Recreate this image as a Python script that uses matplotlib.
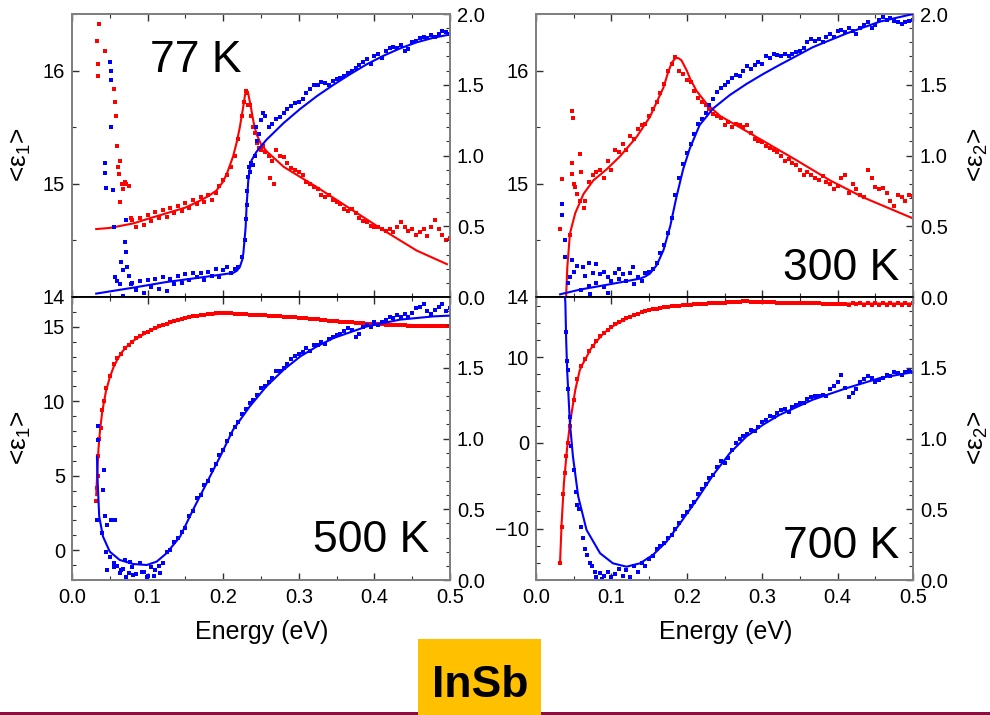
import matplotlib
matplotlib.use('Agg')
import matplotlib.pyplot as plt
from matplotlib import font_manager
from matplotlib.ticker import MultipleLocator, FixedLocator, FormatStrFormatter
from matplotlib.patches import Rectangle

plt.rcParams['font.family'] = ['Liberation Sans', 'DejaVu Sans']
plt.rcParams['mathtext.fontset'] = 'custom'
plt.rcParams['mathtext.rm'] = 'Liberation Sans'
plt.rcParams['mathtext.it'] = 'Liberation Sans:italic'
plt.rcParams['mathtext.bf'] = 'Liberation Sans:bold'

# ---------------- data ----------------
E_GRID = [0.035, 0.040, 0.045, 0.050, 0.055, 0.060, 0.065, 0.070, 0.075, 0.080,
          0.085, 0.090, 0.095, 0.100, 0.105, 0.110, 0.115, 0.120, 0.125, 0.130,
          0.135, 0.140, 0.145, 0.150, 0.155, 0.160, 0.165, 0.170, 0.175, 0.180,
          0.185, 0.190, 0.195, 0.200, 0.205, 0.210, 0.215, 0.220, 0.225, 0.230,
          0.235, 0.240, 0.245, 0.250, 0.255, 0.260, 0.265, 0.270, 0.275, 0.280,
          0.285, 0.290, 0.295, 0.300, 0.305, 0.310, 0.315, 0.320, 0.325, 0.330,
          0.335, 0.340, 0.345, 0.350, 0.355, 0.360, 0.365, 0.370, 0.375, 0.380,
          0.385, 0.390, 0.395, 0.400, 0.405, 0.410, 0.415, 0.420, 0.425, 0.430,
          0.435, 0.440, 0.445, 0.450, 0.455, 0.460, 0.465, 0.470, 0.475, 0.480,
          0.485, 0.490, 0.495, 0.500]

TEMPS = ['77 K', '300 K', '500 K', '700 K']

# ---- 77 K ----
TL_E1_FIT_X = [0.032, 0.050, 0.081, 0.100, 0.125, 0.150, 0.169, 0.180, 0.191, 0.200, 0.206, 0.213, 0.218,
               0.222, 0.226, 0.229, 0.231, 0.233, 0.236, 0.240, 0.244, 0.250, 0.257, 0.280, 0.324, 0.368,
               0.412, 0.456, 0.496]
TL_E1_FIT_Y = [14.60, 14.61, 14.65, 14.69, 14.74, 14.79, 14.85, 14.89, 14.94, 15.02, 15.11, 15.24, 15.37,
               15.50, 15.66, 15.79, 15.83, 15.80, 15.70, 15.55, 15.44, 15.35, 15.29, 15.15, 14.97, 14.78,
               14.59, 14.41, 14.29]
TL_E1_DOTS = [14.68, 14.62, 14.70, 14.64, 14.72, 14.67, 14.75, 14.70, 14.77, 14.71,
              14.79, 14.74, 14.80, 14.76, 14.83, 14.79, 14.86, 14.82, 14.88, 14.84,
              14.90, 14.86, 14.92, 14.98, 15.03, 15.08, 15.15, 15.25, 15.40, 15.60,
              15.82, 15.70, 15.50, 15.36, 15.30, 15.28, 15.25, 15.20, 15.30, 15.25,
              15.24, 15.18, 15.14, 15.12, 15.10, 15.08, 15.02, 15.00, 14.97, 14.95,
              14.90, 14.88, 14.90, 14.86, 14.84, 14.82, 14.78, 14.76, 14.78, 14.74,
              14.70, 14.67, 14.66, 14.63, 14.62, 14.62, 14.60, 14.58, 14.60, 14.57,
              14.62, 14.66, 14.62, 14.58, 14.60, 14.55, 14.57, 14.60, 14.54, 14.62,
              14.68, 14.60, 14.55, 14.50, 14.52]
TL_E1_EXTRA_X = [0.033, 0.034, 0.035, 0.036, 0.044, 0.056, 0.057, 0.058, 0.060, 0.061, 0.062, 0.063, 0.064,
                 0.066, 0.068, 0.070, 0.072, 0.075, 0.078, 0.228, 0.232, 0.233, 0.237, 0.242, 0.247, 0.252,
                 0.262, 0.267]
TL_E1_EXTRA_Y = [16.26, 16.06, 15.95, 16.41, 16.17, 15.84, 15.72, 15.60, 15.33, 15.15, 15.09, 15.20, 14.84,
                 15.00, 14.95, 15.02, 15.00, 14.98, 14.70, 15.72, 15.80, 15.70, 15.60, 15.45, 15.32, 15.33,
                 15.05, 15.00]
TL_E2_FIT_X = [0.032, 0.081, 0.125, 0.169, 0.213, 0.218, 0.222, 0.225, 0.2266, 0.228, 0.2297, 0.231, 0.2332,
               0.235, 0.2376, 0.244, 0.257, 0.280, 0.302, 0.324, 0.346, 0.368, 0.390, 0.412, 0.434, 0.456,
               0.478, 0.496]
TL_E2_FIT_Y = [0.024, 0.066, 0.106, 0.137, 0.170, 0.185, 0.212, 0.26, 0.307, 0.39, 0.495, 0.65, 0.825,
               0.90, 0.967, 1.026, 1.110, 1.230, 1.330, 1.420, 1.500, 1.575, 1.645, 1.705, 1.757, 1.800,
               1.832, 1.851]
TL_E2_DOTS = [0.10, 0.05, 0.11, 0.03, 0.12, 0.07, 0.13, 0.06, 0.14, 0.04,
              0.13, 0.09, 0.15, 0.10, 0.16, 0.12, 0.17, 0.14, 0.17, 0.12,
              0.18, 0.15, 0.20, 0.14, 0.19, 0.21, 0.17, 0.20, 0.21, 0.28,
              0.55, 0.88, 0.93, 1.10, 1.25, 1.28, 1.20, 1.22, 1.26, 1.27,
              1.30, 1.33, 1.35, 1.37, 1.38, 1.40, 1.44, 1.47, 1.50, 1.50,
              1.52, 1.51, 1.50, 1.53, 1.54, 1.55, 1.56, 1.58, 1.60, 1.62,
              1.64, 1.66, 1.68, 1.65, 1.70, 1.72, 1.69, 1.74, 1.76, 1.77,
              1.76, 1.78, 1.74, 1.75, 1.80, 1.81, 1.83, 1.84, 1.83, 1.85,
              1.84, 1.86, 1.88, 1.87, 1.86]
TL_E2_EXTRA_X = [0.050, 0.051, 0.052, 0.052, 0.044, 0.043, 0.045, 0.054, 0.055, 0.071, 0.070, 0.071, 0.073,
                 0.068, 0.057, 0.063, 0.068, 0.060, 0.075, 0.078, 0.065, 0.229, 0.231, 0.232, 0.233, 0.234,
                 0.237, 0.242, 0.243, 0.247, 0.252]
TL_E2_EXTRA_Y = [1.663, 1.60, 1.533, 1.203, 0.948, 0.873, 0.767, 0.755, 0.495, 0.542, 0.389, 0.318, 0.212,
                 0.189, 0.142, 0.094, 0.005, 0.11, 0.15, 0.09, 0.25, 0.40, 0.65, 0.75, 0.85, 0.92,
                 0.95, 1.00, 1.20, 1.15, 1.30]

# ---- 300 K ----
TR_E1_FIT_X = [0.0385, 0.040, 0.0415, 0.045, 0.052, 0.063, 0.076, 0.094, 0.111, 0.133, 0.151, 0.169, 0.175,
               0.180, 0.185, 0.189, 0.193, 0.200, 0.205, 0.213, 0.226, 0.244, 0.270, 0.301, 0.345, 0.390,
               0.434, 0.498]
TR_E1_FIT_Y = [13.95, 14.01, 14.26, 14.56, 14.74, 14.91, 15.03, 15.13, 15.24, 15.41, 15.59, 15.85, 15.98,
               16.07, 16.11, 16.11, 16.09, 16.00, 15.92, 15.82, 15.71, 15.60, 15.50, 15.38, 15.21, 15.03,
               14.88, 14.70]
TR_E1_DOTS = [14.85, 15.02, 15.08, 15.10, 15.12, 15.05, 15.20, 15.12, 15.30, 15.28,
              15.35, 15.30, 15.42, 15.40, 15.48, 15.52, 15.53, 15.60, 15.66, 15.72,
              15.80, 15.88, 16.00, 16.06, 16.12, 16.00, 15.97, 15.92, 15.90, 15.82,
              15.76, 15.72, 15.70, 15.66, 15.62, 15.60, 15.58, 15.52, 15.55, 15.50,
              15.53, 15.52, 15.50, 15.52, 15.45, 15.40, 15.38, 15.37, 15.33, 15.32,
              15.30, 15.28, 15.25, 15.20, 15.22, 15.18, 15.17, 15.12, 15.08, 15.10,
              15.08, 15.05, 15.03, 15.07, 15.02, 15.00, 14.95, 14.98, 15.05, 15.08,
              14.92, 15.00, 14.95, 14.90, 14.88, 15.12, 15.05, 14.97, 14.95, 14.96,
              14.92, 14.85, 14.80, 14.90, 14.88, 14.85, 14.90, 14.89]
TR_E1_EXTRA_X = [0.032, 0.034, 0.048, 0.0486, 0.058, 0.048, 0.048, 0.054, 0.052, 0.058, 0.063, 0.045, 0.050,
                 0.060]
TR_E1_EXTRA_Y = [14.60, 15.04, 15.64, 15.58, 15.26, 15.18, 15.09, 14.91, 14.97, 14.85, 14.79, 14.55, 15.00,
                 15.10]
TR_E2_FIT_X = [0.032, 0.058, 0.102, 0.138, 0.145, 0.151, 0.160, 0.169, 0.178, 0.186, 0.195, 0.204, 0.217,
               0.235, 0.257, 0.279, 0.301, 0.323, 0.367, 0.412, 0.456, 0.500]
TR_E2_FIT_Y = [0.019, 0.052, 0.094, 0.130, 0.145, 0.165, 0.224, 0.330, 0.50, 0.70, 0.90, 1.05, 1.215,
               1.333, 1.427, 1.505, 1.575, 1.640, 1.765, 1.863, 1.946, 2.0]
TR_E2_DOTS = [0.15, 0.08, 0.17, 0.10, 0.16, 0.07, 0.14, 0.11, 0.17, 0.13,
              0.16, 0.11, 0.17, 0.09, 0.14, 0.11, 0.17, 0.18, 0.20, 0.24,
              0.31, 0.37, 0.45, 0.56, 0.72, 0.84, 0.94, 1.02, 1.08, 1.15,
              1.22, 1.26, 1.30, 1.36, 1.40, 1.45, 1.48, 1.50, 1.52, 1.55,
              1.57, 1.56, 1.60, 1.63, 1.61, 1.64, 1.66, 1.65, 1.70, 1.69,
              1.72, 1.71, 1.70, 1.72, 1.70, 1.72, 1.73, 1.74, 1.76, 1.80,
              1.82, 1.81, 1.82, 1.80, 1.84, 1.86, 1.84, 1.88, 1.89, 1.87,
              1.90, 1.88, 1.86, 1.90, 1.92, 1.94, 1.90, 1.92, 1.96, 1.98,
              1.96, 1.97, 1.95, 1.94, 1.93, 1.94, 1.95, 1.96]
TR_E2_EXTRA_X = [0.034, 0.034, 0.038, 0.038, 0.048, 0.055, 0.062, 0.045, 0.050, 0.070, 0.080, 0.090, 0.129,
                 0.060, 0.072, 0.095, 0.042, 0.110]
TR_E2_EXTRA_Y = [0.660, 0.578, 0.400, 0.283, 0.259, 0.220, 0.210, 0.140, 0.180, 0.240, 0.230, 0.180, 0.212,
                 0.050, 0.020, 0.030, 0.100, 0.200]

# ---- 500 K ----
BL_E1_FIT_X = [0.032, 0.0335, 0.035, 0.037, 0.040, 0.045, 0.050, 0.055, 0.060, 0.066, 0.073, 0.081, 0.090,
               0.103, 0.125, 0.147, 0.169, 0.200, 0.235, 0.280, 0.324, 0.368, 0.412, 0.456, 0.498]
BL_E1_FIT_Y = [3.7, 5.3, 6.8, 8.0, 9.3, 10.7, 11.6, 12.3, 12.8, 13.3, 13.7, 14.06, 14.35,
               14.73, 15.18, 15.53, 15.75, 15.89, 15.82, 15.67, 15.51, 15.33, 15.18, 15.11, 15.09]
BL_E1_DOTS = [10.9, 11.7, 12.5, 12.9, 13.2, 13.6, 13.8, 14.0, 14.25, 14.4,
              14.55, 14.65, 14.8, 14.9, 15.05, 15.1, 15.2, 15.3, 15.38, 15.45,
              15.5, 15.58, 15.65, 15.7, 15.75, 15.78, 15.82, 15.85, 15.86, 15.9,
              15.9, 15.92, 15.9, 15.9, 15.88, 15.86, 15.85, 15.84, 15.82, 15.82,
              15.8, 15.78, 15.77, 15.75, 15.73, 15.72, 15.7, 15.68, 15.66, 15.66,
              15.63, 15.62, 15.58, 15.57, 15.54, 15.52, 15.5, 15.48, 15.44, 15.42,
              15.4, 15.37, 15.35, 15.33, 15.31, 15.29, 15.28, 15.25, 15.24, 15.22,
              15.2, 15.19, 15.18, 15.17, 15.15, 15.13, 15.12, 15.11, 15.1, 15.1,
              15.08, 15.08, 15.07, 15.06, 15.06, 15.05, 15.05, 15.05, 15.04, 15.05,
              15.04, 15.05]
BL_E1_EXTRA_X = [0.032, 0.033, 0.034, 0.035, 0.036, 0.038, 0.040, 0.042]
BL_E1_EXTRA_Y = [3.3, 4.2, 5.0, 6.3, 7.5, 8.2, 9.4, 10.0]
BL_E2_FIT_X = [0.033, 0.034, 0.036, 0.041, 0.050, 0.063, 0.081, 0.099, 0.112, 0.125, 0.143, 0.160, 0.178,
               0.196, 0.213, 0.235, 0.257, 0.280, 0.302, 0.324, 0.346, 0.390, 0.434, 0.478, 0.498]
BL_E2_FIT_Y = [0.873, 0.684, 0.448, 0.307, 0.200, 0.142, 0.113, 0.106, 0.130, 0.189, 0.307, 0.495, 0.684,
               0.873, 1.061, 1.226, 1.368, 1.486, 1.580, 1.651, 1.710, 1.792, 1.840, 1.863, 1.868]
BL_E2_DOTS = [0.33, 0.20, 0.16, 0.12, 0.10, 0.07, 0.14, 0.05, 0.09, 0.04,
              0.12, 0.06, 0.03, 0.09, 0.07, 0.10, 0.12, 0.20, 0.21, 0.27,
              0.30, 0.34, 0.37, 0.45, 0.49, 0.58, 0.60, 0.67, 0.70, 0.78,
              0.82, 0.88, 0.92, 0.98, 1.03, 1.08, 1.12, 1.17, 1.21, 1.25,
              1.27, 1.31, 1.36, 1.37, 1.40, 1.43, 1.48, 1.48, 1.50, 1.53,
              1.56, 1.58, 1.60, 1.61, 1.64, 1.62, 1.66, 1.66, 1.68, 1.67,
              1.70, 1.72, 1.73, 1.74, 1.76, 1.78, 1.77, 1.72, 1.74, 1.79,
              1.80, 1.79, 1.82, 1.80, 1.82, 1.84, 1.86, 1.85, 1.87, 1.86,
              1.88, 1.86, 1.89, 1.92, 1.93, 1.95, 1.90, 1.88, 1.91, 1.93,
              1.95, 1.90, 1.92]
BL_E2_EXTRA_X = [0.033, 0.034, 0.035, 0.041, 0.042, 0.044, 0.046, 0.052, 0.057, 0.046, 0.055, 0.063, 0.072,
                 0.081, 0.099, 0.117, 0.108, 0.092, 0.067, 0.077]
BL_E2_EXTRA_Y = [0.425, 1.09, 0.99, 0.637, 0.778, 0.45, 0.389, 0.425, 0.425, 0.071, 0.094, 0.047, 0.02,
                 0.035, 0.02, 0.047, 0.03, 0.06, 0.08, 0.13]

# ---- 700 K ----
BR_E1_FIT_X = [0.032, 0.034, 0.037, 0.041, 0.045, 0.052, 0.058, 0.062, 0.067, 0.073, 0.080, 0.090, 0.102,
               0.125, 0.147, 0.191, 0.235, 0.279, 0.323, 0.367, 0.412, 0.498]
BR_E1_FIT_Y = [-13.72, -9.38, -4.73, -0.85, 2.25, 6.12, 8.45, 9.2, 10.0, 11.0, 11.8, 12.8, 13.6,
               14.7, 15.43, 16.0, 16.28, 16.47, 16.36, 16.28, 16.24, 16.24]
BR_E1_DOTS = [2.0, 5.0, 7.4, 8.9, 9.8, 10.7, 11.3, 11.9, 12.4, 12.8,
              13.2, 13.5, 13.8, 14.1, 14.3, 14.55, 14.7, 14.85, 15.0, 15.2,
              15.35, 15.45, 15.55, 15.65, 15.7, 15.8, 15.85, 15.9, 15.95, 16.0,
              16.05, 16.1, 16.12, 16.15, 16.18, 16.2, 16.22, 16.25, 16.28, 16.3,
              16.33, 16.35, 16.38, 16.4, 16.42, 16.45, 16.5, 16.48, 16.45, 16.42,
              16.4, 16.4, 16.38, 16.37, 16.36, 16.35, 16.34, 16.33, 16.32, 16.3,
              16.3, 16.28, 16.27, 16.27, 16.26, 16.25, 16.25, 16.24, 16.24, 16.23,
              16.23, 16.22, 16.22, 16.21, 16.1, 16.3, 16.15, 16.3, 16.1, 16.32,
              16.12, 16.3, 16.1, 16.32, 16.12, 16.3, 16.1, 16.32, 16.12, 16.3,
              16.1, 16.3]
BR_E1_EXTRA_X = [0.032, 0.034, 0.036, 0.038, 0.040, 0.042]
BR_E1_EXTRA_Y = [-14.0, -9.8, -6.0, -3.5, -1.5, 0.0]
BR_E2_FIT_X = [0.038, 0.039, 0.040, 0.0415, 0.045, 0.049, 0.056, 0.067, 0.085, 0.102, 0.120, 0.138, 0.155,
               0.173, 0.191, 0.213, 0.235, 0.257, 0.279, 0.301, 0.323, 0.367, 0.412, 0.456, 0.498]
BR_E2_FIT_Y = [2.05, 1.95, 1.698, 1.462, 1.108, 0.873, 0.590, 0.354, 0.189, 0.118, 0.094, 0.118, 0.177,
               0.27, 0.40, 0.566, 0.743, 0.896, 1.014, 1.097, 1.167, 1.274, 1.356, 1.427, 1.467]
BR_E2_DOTS = [0.15, 0.17, 0.22, 0.24, 0.26, 0.30, 0.32, 0.36, 0.40, 0.45,
              0.48, 0.52, 0.55, 0.61, 0.64, 0.68, 0.72, 0.74, 0.80, 0.84,
              0.83, 0.86, 0.92, 0.97, 1.00, 1.02, 1.03, 1.06, 1.05, 1.08,
              1.12, 1.13, 1.16, 1.15, 1.18, 1.20, 1.21, 1.19, 1.22, 1.24,
              1.25, 1.25, 1.28, 1.29, 1.30, 1.30, 1.31, 1.30, 1.35, 1.37,
              1.40, 1.45, 1.36, 1.29, 1.32, 1.35, 1.40, 1.42, 1.44, 1.43,
              1.40, 1.41, 1.43, 1.45, 1.44, 1.47, 1.46, 1.45, 1.47, 1.48,
              1.47]
BR_E2_EXTRA_X = [0.040, 0.041, 0.042, 0.043, 0.045, 0.047, 0.050, 0.053, 0.055, 0.057, 0.060, 0.062, 0.065,
                 0.068, 0.072, 0.074, 0.080, 0.085, 0.090, 0.095, 0.100, 0.105, 0.110, 0.115, 0.120, 0.125,
                 0.130, 0.135, 0.140, 0.145, 0.078, 0.088]
BR_E2_EXTRA_Y = [1.75, 1.55, 1.486, 1.35, 1.15, 0.95, 0.78, 0.62, 0.531, 0.50, 0.377, 0.30, 0.22,
                 0.18, 0.118, 0.10, 0.024, 0.05, 0.03, 0.06, 0.02, 0.04, 0.08, 0.03, 0.07, 0.02,
                 0.10, 0.06, 0.12, 0.10, 0.06, 0.01]

# ---------------- figure ----------------
W, H = 990, 715
fig = plt.figure(figsize=(W / 100, H / 100), dpi=100)
fig.patch.set_facecolor('white')

RED = '#FF0000'
BLUE = '#0000FF'
GRAY = '#808080'
TICK_FS = 14.5
DOT_MS = 2.4
LINE_W = 1.5


def axes_px(x0, y0, x1, y1):
    return fig.add_axes([x0 / W, 1 - y1 / H, (x1 - x0) / W, (y1 - y0) / H])


def tail(vals):
    return E_GRID[len(E_GRID) - len(vals):]


def panel(rect, e1fit, e1dots, e1extra, e2fit, e2dots, e2extra, e1lim, e1major, e1minor,
          e2ticks, is_top):
    ax = axes_px(*rect)
    ax2 = ax.twinx()
    ax.set_xlim(0, 0.5)
    ax.set_ylim(*e1lim)
    ax2.set_ylim(0, 2.0)

    ax.plot(tail(e1dots), e1dots, ls='none', marker='s', ms=DOT_MS, mew=0, color=RED, zorder=2)
    ax.plot(e1extra[0], e1extra[1], ls='none', marker='s', ms=DOT_MS, mew=0, color=RED, zorder=2)
    ax.plot(e1fit[0], e1fit[1], color=RED, lw=LINE_W, zorder=3)

    ax2.plot(tail(e2dots), e2dots, ls='none', marker='s', ms=DOT_MS, mew=0, color=BLUE, zorder=2)
    ax2.plot(e2extra[0], e2extra[1], ls='none', marker='s', ms=DOT_MS, mew=0, color=BLUE, zorder=2)
    ax2.plot(e2fit[0], e2fit[1], color=BLUE, lw=LINE_W, zorder=3)

    ax.xaxis.set_major_locator(MultipleLocator(0.1))
    ax.xaxis.set_minor_locator(MultipleLocator(0.05))
    ax.xaxis.set_major_formatter(FormatStrFormatter('%.1f'))
    ax.yaxis.set_major_locator(MultipleLocator(e1major))
    ax.yaxis.set_minor_locator(MultipleLocator(e1minor))
    ax2.yaxis.set_major_locator(FixedLocator(e2ticks))
    ax2.yaxis.set_minor_locator(MultipleLocator(0.1))
    ax2.yaxis.set_major_formatter(FormatStrFormatter('%.1f'))

    ax.tick_params(axis='x', which='both', direction='in', top=True, bottom=True,
                   labelbottom=not is_top, labelsize=TICK_FS, pad=6)
    ax.tick_params(axis='y', which='both', direction='in', left=True, right=False,
                   labelleft=True, labelright=False, labelsize=TICK_FS, pad=5)
    ax2.tick_params(axis='y', which='both', direction='in', right=True, left=False,
                    labelright=True, labelleft=False, labelsize=TICK_FS, pad=5)
    for a in (ax, ax2):
        a.tick_params(which='major', length=5, width=1.0, color='#303030')
        a.tick_params(which='minor', length=3, width=0.8, color='#303030')
        for s in a.spines.values():
            s.set_color(GRAY)
            s.set_linewidth(1.4)
        if is_top:
            a.spines['bottom'].set_color('black')
            a.spines['bottom'].set_linewidth(1.1)
        else:
            a.spines['top'].set_color('black')
            a.spines['top'].set_linewidth(1.1)
    return ax, ax2


panel((72, 14, 450, 297), (TL_E1_FIT_X, TL_E1_FIT_Y), TL_E1_DOTS, (TL_E1_EXTRA_X, TL_E1_EXTRA_Y),
      (TL_E2_FIT_X, TL_E2_FIT_Y), TL_E2_DOTS, (TL_E2_EXTRA_X, TL_E2_EXTRA_Y),
      (14, 16.5), 1, 0.5, [0, 0.5, 1.0, 1.5, 2.0], True)
panel((536, 14, 913, 297), (TR_E1_FIT_X, TR_E1_FIT_Y), TR_E1_DOTS, (TR_E1_EXTRA_X, TR_E1_EXTRA_Y),
      (TR_E2_FIT_X, TR_E2_FIT_Y), TR_E2_DOTS, (TR_E2_EXTRA_X, TR_E2_EXTRA_Y),
      (14, 16.5), 1, 0.5, [0, 0.5, 1.0, 1.5, 2.0], True)
panel((72, 297, 450, 580), (BL_E1_FIT_X, BL_E1_FIT_Y), BL_E1_DOTS, (BL_E1_EXTRA_X, BL_E1_EXTRA_Y),
      (BL_E2_FIT_X, BL_E2_FIT_Y), BL_E2_DOTS, (BL_E2_EXTRA_X, BL_E2_EXTRA_Y),
      (-2, 17), 5, 1, [0, 0.5, 1.0, 1.5], False)
panel((536, 297, 913, 580), (BR_E1_FIT_X, BR_E1_FIT_Y), BR_E1_DOTS, (BR_E1_EXTRA_X, BR_E1_EXTRA_Y),
      (BR_E2_FIT_X, BR_E2_FIT_Y), BR_E2_DOTS, (BR_E2_EXTRA_X, BR_E2_EXTRA_Y),
      (-16, 17), 10, 2, [0, 0.5, 1.0, 1.5], False)


def ftext(x, y, s, **kw):
    return fig.text(x / W, 1 - y / H, s, **kw)


# temperature labels (baseline positions)
ftext(196, 72, TEMPS[0], fontsize=32, ha='center', va='baseline')
ftext(841, 280, TEMPS[1], fontsize=32, ha='center', va='baseline')
ftext(371, 552, TEMPS[2], fontsize=32, ha='center', va='baseline')
ftext(841, 558, TEMPS[3], fontsize=32, ha='center', va='baseline')

# axis labels
for yc in (155, 438):
    ftext(21, yc, '<ε$_1$>', fontsize=19, rotation=90, ha='center', va='center')
    ftext(978, yc, '<ε$_2$>', fontsize=19, rotation=90, ha='center', va='center')
ftext(262, 639, 'Energy (eV)', fontsize=18, ha='center', va='baseline')
ftext(726, 639, 'Energy (eV)', fontsize=18, ha='center', va='baseline')

# footer: maroon rule and gold label box
fig.add_artist(Rectangle((0, 0), 1, 3.2 / H, transform=fig.transFigure,
                         facecolor='#8E0B3E', edgecolor='none', zorder=5))
fig.add_artist(Rectangle((418 / W, 0), 123 / W, (715 - 639) / H, transform=fig.transFigure,
                         facecolor='#FFC000', edgecolor='none', zorder=6))

_available = {f.name for f in font_manager.fontManager.ttflist}
if 'Liberation Sans Narrow' in _available:
    _badge_family, _badge_size = ['Liberation Sans Narrow', 'Liberation Sans'], 35.5
else:
    _badge_family, _badge_size = ['Liberation Sans', 'DejaVu Sans'], 32
ftext(480, 697, 'InSb', fontsize=_badge_size, fontweight='bold', ha='center', va='baseline',
      family=_badge_family, zorder=7)

fig.savefig('out.png', dpi=100, facecolor='white')
